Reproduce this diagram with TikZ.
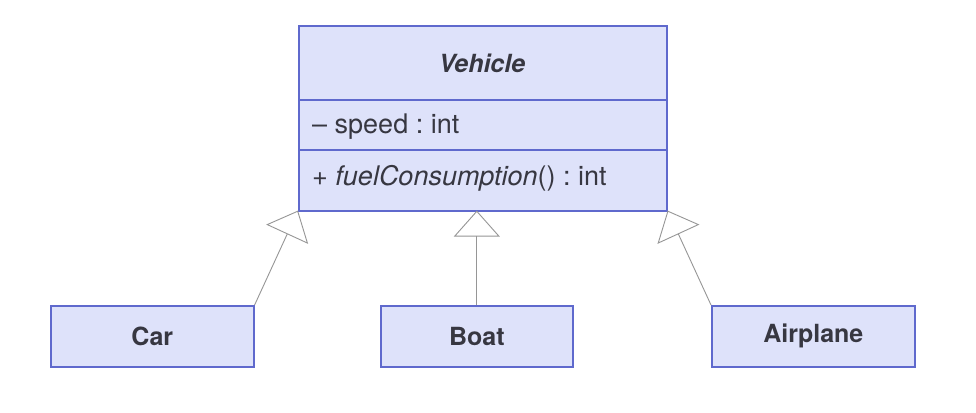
\documentclass[tikz,border=0pt]{standalone}
\usepackage{fontspec}
\setmainfont{TeX Gyre Heros}
\usetikzlibrary{arrows.meta}
\definecolor{boxfill}{RGB}{222,226,250}
\definecolor{boxline}{RGB}{95,105,205}
\definecolor{txt}{RGB}{55,55,65}
\definecolor{conn}{RGB}{150,150,150}
\begin{document}
\begin{tikzpicture}[x=1pt,y=-1pt,
  cls/.style={draw=boxline,fill=boxfill,line width=1.6pt},
  lbl/.style={text=txt,font=\fontsize{27}{30}\selectfont,inner sep=0pt},
  bold/.style={font=\fontsize{25}{28}\selectfont\bfseries},
  gen/.style={draw=conn,line width=0.9pt,-{Triangle[open,length=26pt,width=46pt,line width=0.9pt]}}]
\useasboundingbox (0,0) rectangle (976,412);
\fill[white] (0,0) rectangle (976,412);
% Vehicle class
\node[cls,minimum width=368pt,minimum height=185pt,anchor=north west,inner sep=0pt] (veh) at (298,25) {};
\draw[boxline,line width=1.2pt] (veh.west |- 0,100) coordinate (d1l) -- (veh.east |- 0,100) coordinate (d1r);
\draw[boxline,line width=1.2pt] (veh.west |- 0,150) coordinate (d2l) -- (veh.east |- 0,150) coordinate (d2r);
\node[lbl,font=\fontsize{25}{28}\selectfont\bfseries\itshape] (vname) at (482,63) {Vehicle};
\node[lbl,anchor=west] (attr) at (312,127) {–\ speed\ :\ int};
\node[lbl,anchor=west] (meth) at (312,178) {+\ \textit{fuelConsumption}()\ :\ int};
% subclasses
\node[cls,lbl,bold,minimum width=203pt,minimum height=61pt,anchor=north west] (car) at (50,305) {Car};
\node[cls,lbl,bold,minimum width=192pt,minimum height=61pt,anchor=north west] (boat) at (380,305) {Boat};
\node[cls,lbl,bold,minimum width=203pt,minimum height=61pt,anchor=north west] (plane) at (711,305) {Airplane};
% generalisations
\coordinate (vb) at (veh.south -| boat.north);
\draw[gen] (car.north east) -- ([yshift=1pt]veh.south west);
\draw[gen] (boat.north) -- ([yshift=1pt]vb);
\draw[gen] (plane.north west) -- ([yshift=1pt]veh.south east);
\end{tikzpicture}
\end{document}
